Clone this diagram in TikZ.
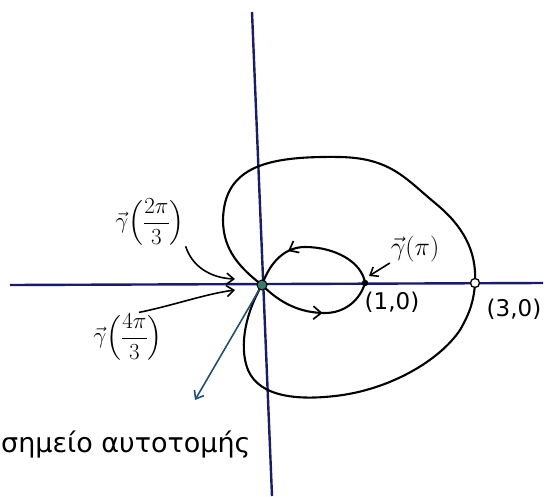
\documentclass[tikz,border=0pt]{standalone}
\usepackage{fix-cm}
\usepackage{amsmath}
\usepackage{fontspec}
\setmainfont{DejaVu Sans}
\usetikzlibrary{arrows.meta,decorations.markings}
\definecolor{axisblue}{HTML}{1A1A70}
\definecolor{tealarrow}{HTML}{1F4F7A}
\definecolor{originfill}{HTML}{3A7A6A}
\begin{document}
\begin{tikzpicture}[x=1pt,y=-1pt,
  axis/.style={draw=axisblue,line width=2.4pt},
  curve/.style={draw=black,line width=2.1pt,line cap=round},
  lbl/.style={font=\fontsize{23}{27}\selectfont,inner sep=1pt},
  glbl/.style={font=\fontsize{23}{27}\selectfont,inner sep=1pt},
  gplbl/.style={font=\fontsize{26}{30}\selectfont,inner sep=1pt},
  txt/.style={font=\fontsize{27}{32}\selectfont,inner sep=0pt},
  larrow/.style={draw=black,line width=1.6pt,line cap=round,-{Straight Barb[length=7pt,width=11pt,line width=1.6pt]}},
  barrow/.style={draw=tealarrow,line width=1.6pt,line cap=round,-{Straight Barb[length=7pt,width=11pt,line width=1.6pt]}},
  midarrow/.style={postaction={decorate},decoration={markings,mark=at position #1 with {\arrow{Straight Barb[length=8pt,width=13pt,line width=1.7pt]}}}}
]
\useasboundingbox (0,0) rectangle (552,496);

% key points
\coordinate (O) at (262,285);
\coordinate (P1) at (365,283);
\coordinate (P3) at (475,283);
\coordinate (yt) at (252,12);
\coordinate (yb) at (272,496);
\coordinate (xl) at (10,285);
\coordinate (xr) at (543,283);
\coordinate (e2) at (235,279);
\coordinate (e4) at (235,290);
\coordinate (e1) at (369,276);
\coordinate (ea) at (195,400);

% axes
\draw[axis] (xl) -- (xr);
\draw[axis] (yt) -- (yb);

% outer loop, upper part
\draw[curve] (P3) .. controls (477,250) and (462,225) .. (435,203)
  .. controls (405,178) and (390,158) .. (340,157)
  .. controls (270,156) and (224,165) .. (223,220)
  .. controls (223,250) and (240,268) .. (O);
% outer loop, lower part
\draw[curve] (O) .. controls (247,310) and (238,345) .. (248,370)
  .. controls (260,398) and (300,400) .. (335,396)
  .. controls (390,390) and (440,360) .. (460,330)
  .. controls (470,313) and (474,300) .. (P3);
% inner loop
\draw[curve,midarrow=0.55] (O) .. controls (280,303) and (300,313) .. (325,313)
  .. controls (345,313) and (360,300) .. (P1);
\draw[curve,midarrow=0.68] (P1) .. controls (362,262) and (335,247) .. (305,247)
  .. controls (285,247) and (270,262) .. (O);

% labels
\node[glbl] (g2) at (150,222) {$\vec{\gamma}\Bigl(\dfrac{2\pi}{3}\Bigr)$};
\node[glbl] (g4) at (128,337) {$\vec{\gamma}\Bigl(\dfrac{4\pi}{3}\Bigr)$};
\node[gplbl] (gpi) at (415,249) {$\vec{\gamma}(\pi)$};
\node[lbl] (l1) at (392,302) {(1,0)};
\node[lbl] (l3) at (514,309) {(3,0)};
\node[txt,anchor=base west] (sa) at (1,452) {σημείο αυτοτομής};

% label arrows
\draw[larrow] (g2.south east) .. controls (192,266) and (210,278) .. (e2);
\draw[larrow] (g4.65) .. controls (175,305) and (205,294) .. (e4);
\draw[larrow] (gpi.south west) -- (e1);

% marked points
\node[circle,draw=black,fill=black,minimum size=6pt,inner sep=0pt] (d1) at (P1) {};
\node[circle,draw=black,fill=white,line width=1.3pt,minimum size=9pt,inner sep=0pt] (d3) at (P3) {};
\draw[barrow] (O) -- (ea);
\node[circle,draw=black,fill=originfill,line width=1pt,minimum size=10pt,inner sep=0pt] (d0) at (O) {};
\end{tikzpicture}
\end{document}
